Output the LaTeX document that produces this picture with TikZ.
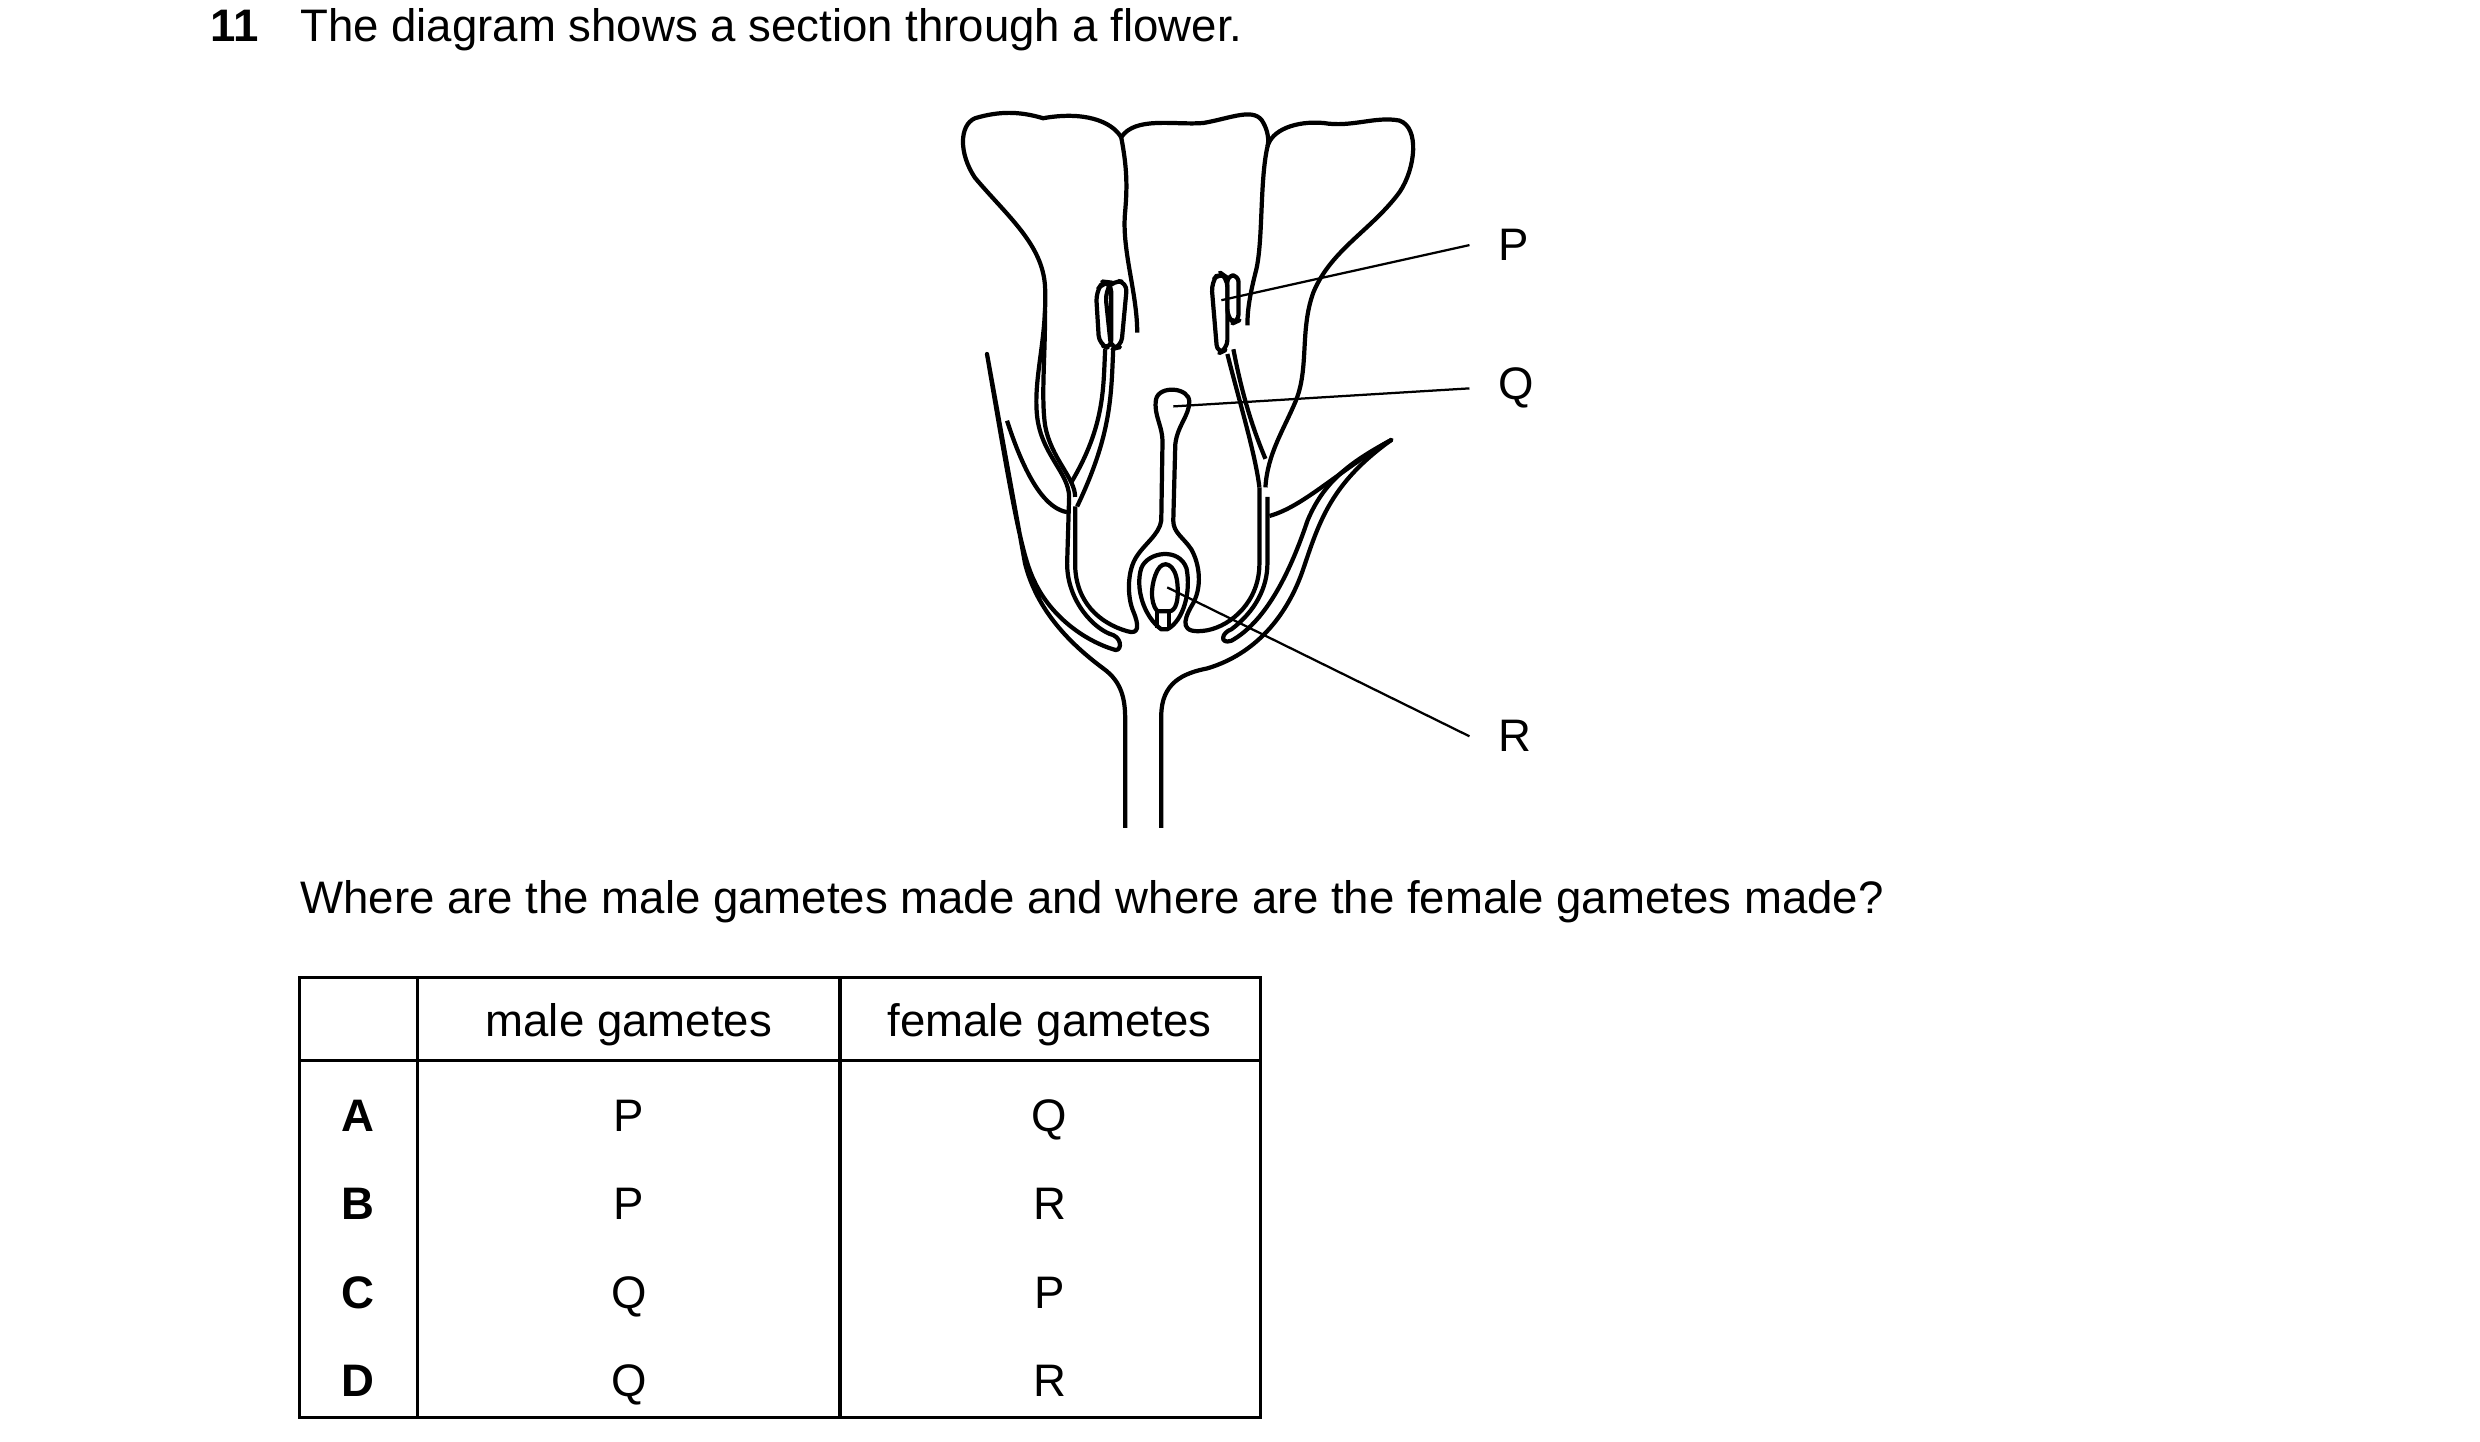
\documentclass[tikz,border=0pt]{standalone}
\usepackage{fontspec}
\setmainfont{Liberation Sans}
\begin{document}
\begin{tikzpicture}[
  x=0.01cm, y=-0.01cm,
  every node/.style={font=\fontsize{8.1}{9.7}\selectfont, inner sep=0pt},
  txt/.style={anchor=base west},
  cell/.style={anchor=base},
  lbl/.style={anchor=base west},
  part/.style={draw=black, line width=0.75pt, line join=round},
  lead/.style={draw=black, line width=0.4pt}
  ]
	\useasboundingbox (0,0) rectangle (1550,901);

	\node[txt, font=\fontsize{8.1}{9.7}\selectfont\bfseries] (num) at (131,26) {11};
	\node[txt] (title) at (187,26) {The diagram shows a section through a flower.};
	\node[txt] (quest) at (187,571) {Where are the male gametes made and where are the female gametes made?};

	% flower, drawn in the zoomed frame
	\begin{scope}[shift={(5.94cm,-0.575cm)}, x=0.00251cm, y=-0.00298cm]
		% left petal, stalk and sepal
		\draw[part] (425,95) .. controls (400,60) and (330,40) .. (230,55)
			.. controls (170,40) and (120,40) .. (60,55)
			.. controls (20,70) and (20,130) .. (60,180)
			.. controls (140,260) and (230,320) .. (235,410)
			.. controls (240,520) and (205,600) .. (215,680)
			.. controls (225,760) and (295,800) .. (295,850) -- (290,990)
			.. controls (290,1070) and (360,1130) .. (405,1140)
			.. controls (430,1150) and (425,1178) .. (405,1170)
			.. controls (330,1150) and (250,1100) .. (210,1030)
			.. controls (180,980) and (160,900) .. (90,550)
			-- (185,990) .. controls (215,1090) and (300,1160) .. (380,1210)
			.. controls (430,1240) and (435,1280) .. (435,1320) -- (435,1545);
		\draw[part] (235,460) .. controls (235,560) and (225,640) .. (235,700)
			.. controls (250,770) and (310,810) .. (310,850);
		\draw[part] (140,690) .. controls (190,820) and (240,875) .. (290,882);
		% middle petal
		\draw[part] (425,95) .. controls (460,50) and (560,70) .. (630,65)
			.. controls (700,55) and (760,30) .. (780,65)
			.. controls (790,80) and (795,100) .. (790,115);
		\draw[part] (425,95) .. controls (440,160) and (440,200) .. (435,250)
			.. controls (425,330) and (465,420) .. (465,505);
		% right petal
		\draw[part] (790,115) .. controls (770,190) and (780,320) .. (760,380)
			.. controls (745,430) and (740,460) .. (740,490);
		\draw[part] (790,115) .. controls (800,80) and (860,60) .. (930,65)
			.. controls (1000,75) and (1060,50) .. (1120,60)
			.. controls (1170,75) and (1160,160) .. (1120,210)
			.. controls (1050,290) and (950,330) .. (905,420)
			.. controls (870,500) and (895,580) .. (860,650)
			.. controls (830,710) and (790,760) .. (785,830);
		\draw[part] (795,890) .. controls (880,870) and (960,800) .. (1100,730);
		% right sepal and stalk
		\draw[part] (525,1545) -- (525,1310) .. controls (525,1240) and (580,1220) .. (640,1210)
			.. controls (760,1180) and (840,1100) .. (880,1000)
			.. controls (920,900) and (950,820) .. (1100,730)
			.. controls (990,780) and (930,820) .. (890,900)
			.. controls (850,1000) and (790,1110) .. (700,1152)
			.. controls (670,1160) and (675,1135) .. (700,1128)
			.. controls (760,1090) and (790,1040) .. (790,990) -- (790,850);
		\draw[part] (770,830) -- (770,990) .. controls (770,1070) and (700,1120) .. (640,1130)
			.. controls (570,1140) and (580,1110) .. (600,1080)
			.. controls (630,1040) and (620,990) .. (600,960)
			.. controls (580,935) and (555,925) .. (555,900)
			-- (560,740) .. controls (565,700) and (595,680) .. (595,650)
			.. controls (595,620) and (520,615) .. (512,645)
			.. controls (505,680) and (530,700) .. (528,740)
			-- (525,900) .. controls (520,930) and (480,950) .. (460,980)
			.. controls (440,1010) and (440,1060) .. (455,1090)
			.. controls (470,1120) and (470,1140) .. (440,1132)
			.. controls (370,1115) and (310,1070) .. (310,990) -- (310,870);
		% ovary wall and ovule
		\draw[part] (525,1128) .. controls (480,1100) and (460,1040) .. (475,1000)
			.. controls (490,965) and (570,955) .. (588,1000)
			.. controls (600,1050) and (580,1110) .. (540,1128) -- cycle;
		\draw[part] (515,1090) .. controls (495,1070) and (500,1030) .. (515,1005)
			.. controls (530,980) and (560,990) .. (565,1030)
			.. controls (570,1070) and (560,1090) .. (545,1090) -- cycle;
		\draw[part] (515,1090) -- (515,1125) (545,1090) -- (545,1125);
		% stamens
		\draw[part] (385,540) .. controls (380,620) and (385,700) .. (300,820);
		\draw[part] (405,540) .. controls (400,640) and (400,720) .. (315,870);
		\draw[part, rounded corners=1.6pt] (370,530) -- (362,420) -- (380,398) -- (400,400) -- (400,540) -- cycle;
		\draw[part, rounded corners=1.6pt] (400,540) -- (385,420) -- (405,395) -- (440,400) -- (425,535) -- cycle;
		\draw[part, rounded corners=1.6pt] (665,550) -- (650,400) -- (670,378) -- (690,390) -- (690,540) -- cycle;
		\draw[part, rounded corners=1.2pt] (690,470) -- (690,385) -- (718,385) -- (718,480) -- (705,485) -- cycle;
		\draw[part] (690,550) .. controls (720,650) and (760,760) .. (770,830);
		\draw[part] (705,540) .. controls (730,650) and (760,720) .. (785,770);
		% label points
		\coordinate (anther) at (675,437);
		\coordinate (stigma) at (555,660);
		\coordinate (ovule) at (540,1040);
	\end{scope}

	\node[lbl] (P) at (936,163) {P};
	\node[lbl] (Q) at (936,250) {Q};
	\node[lbl] (R) at (936,470) {R};
	\draw[lead] (anther) -- ([xshift=-5]P.west);
	\draw[lead] (stigma) -- ([xshift=-5]Q.west);
	\draw[lead] (ovule) -- ([xshift=-5]R.west);

	% table
	\draw[line width=0.6pt] (187,611) rectangle (788,886);
	\draw[line width=0.6pt] (187,663) -- (788,663);
	\draw[line width=0.6pt] (261,611) -- (261,886);
	\draw[line width=0.6pt] (525,611) -- (525,886);
	\node[cell] (hm) at (393,648) {male gametes};
	\node[cell] (hf) at (656,648) {female gametes};
	\foreach \row/\male/\female [count=\i from 0] in {A/P/Q, B/P/R, C/Q/P, D/Q/R} {
		\node[cell, font=\fontsize{8.1}{9.7}\selectfont\bfseries] (k\row) at (224,{707+55.3*\i}) {\row};
		\node[cell] (m\row) at (393,{707+55.3*\i}) {\male};
		\node[cell] (f\row) at (656,{707+55.3*\i}) {\female};
	}
\end{tikzpicture}
\end{document}
